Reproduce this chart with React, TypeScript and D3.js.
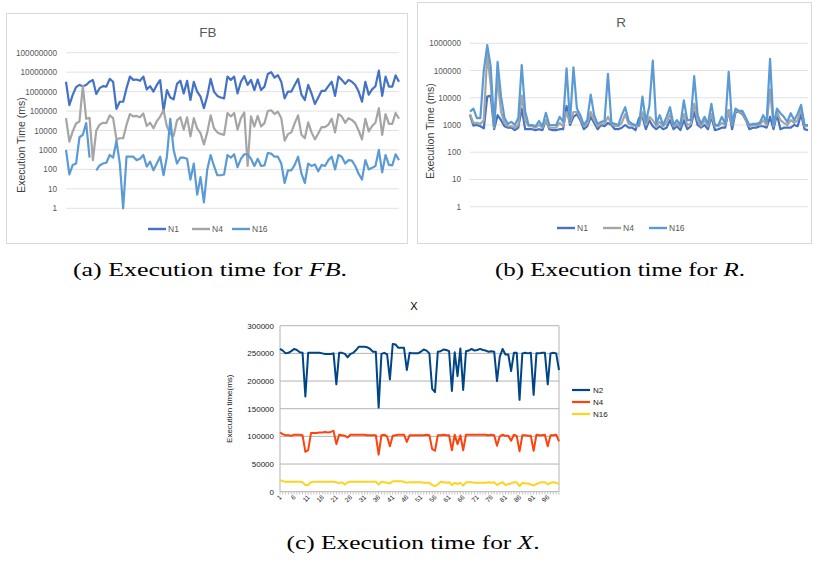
import React from "react";
import * as d3 from "d3";

// FB panel (log scale)
const FB_N1 = [
  3200000, 200000, 680000, 1700000, 2200000, 1900000, 2200000, 3200000, 3900000, 750000,
  1500000, 1900000, 1800000, 4500000, 3200000, 130000, 300000, 300000, 1500000, 5900000,
  4000000, 4200000, 3600000, 5900000, 1300000, 1900000, 1000000, 2200000, 3900000, 100000,
  1200000, 500000, 400000, 2500000, 3600000, 800000, 3600000, 370000, 3200000, 1000000,
  550000, 140000, 600000, 4500000, 1000000, 600000, 500000, 450000, 5900000, 4000000,
  5900000, 800000, 3200000, 6300000, 2200000, 4000000, 1200000, 4200000, 1200000, 1800000,
  8000000, 10000000, 5200000, 7000000, 3200000, 450000, 1000000, 1000000, 2200000, 4500000,
  700000, 370000, 2200000, 800000, 230000, 500000, 1100000, 1100000, 1900000, 3200000,
  600000, 5900000, 4000000, 2500000, 4000000, 3200000, 2200000, 1000000, 300000, 3200000,
  700000, 1300000, 1900000, 12000000, 600000, 5900000, 1800000, 1800000, 6800000, 3200000,
];
const FB_N4 = [
  43000, 2700, 9000, 23000, 29000, 2000000, 40000, 45000, 300, 10000,
  20000, 25000, 24000, 60000, 43000, 3500, 4000, 4000, 20000, 70000,
  53000, 56000, 48000, 75000, 17000, 25000, 13000, 30000, 52000, 110000,
  16000, 6700, 5300, 33000, 48000, 11000, 48000, 5000, 43000, 13000,
  7300, 1900, 8000, 60000, 13000, 8000, 6700, 6000, 79000, 53000,
  79000, 11000, 43000, 84000, 150, 53000, 16000, 56000, 16000, 24000,
  100000, 110000, 70000, 93000, 43000, 3000, 6500, 8000, 24000, 60000,
  6000, 4000, 26000, 8000, 3500, 7000, 15000, 15000, 20000, 40000,
  8000, 70000, 53000, 25000, 43000, 35000, 24000, 10000, 3500, 40000,
  9000, 17000, 25000, 140000, 6000, 70000, 22000, 22000, 80000, 40000,
];
const FB_N16 = [
  1000, 55, 170, 200, 4500, 6000, 24000, 400, null, 90,
  160, 200, 220, 550, 400, 3000, 200, 1, 450, 450,
  450, 300, 350, 550, 140, 250, 90, 200, 450, 50,
  450, 40000, 1000, 200, 400, 400, 350, 30, 200, 5,
  40, 2, 100, 550, 150, 50, 50, 55, 550, 400,
  600, 130, 350, 600, 600, 350, 150, 350, 150, 160,
  700, 650, 450, 450, 200, 20, 90, 90, 170, 450,
  60, 20, 200, 150, 180, 80, 170, 150, 300, 450,
  100, 550, 450, 200, 300, 280, 150, 60, 30, 300,
  100, 120, 150, 1000, 70, 550, 170, 160, 600, 300,
];

// R panel (log scale)
const R_N1 = [
  2300, 950, 1000, 900, 750, 11000, 12000, 700, 2300, 1500,
  900, 800, 800, 650, 800, 4000, 700, 700, 700, 650,
  700, 650, 1500, 700, 650, 650, 700, 700, 5000, 1000,
  2000, 2500, 1500, 700, 900, 2000, 1200, 700, 1000, 900,
  1200, 1000, 700, 700, 800, 1000, 800, 800, 650, 1800,
  2000, 700, 1500, 900, 700, 900, 700, 800, 1500, 700,
  900, 650, 1500, 700, 900, 3000, 1000, 800, 1000, 700,
  2000, 650, 700, 800, 800, 3500, 700, 3000, 3000, 2500,
  1500, 700, 800, 800, 900, 900, 800, 2000, 700, 2500,
  700, 800, 800, 800, 1000, 900, 2500, 700, 650,
];
const R_N4 = [
  2500, 1200, 1200, 1100, 1500, 400000, 30000, 800, 50000, 3000,
  1200, 900, 900, 800, 1000, 12000, 1500, 900, 900, 800,
  1000, 800, 1500, 800, 800, 800, 1200, 900, 3000, 1200,
  3000, 3000, 1800, 900, 1100, 3000, 1500, 900, 1100, 1100,
  2000, 1100, 900, 900, 1200, 2500, 1100, 1000, 900, 900,
  3000, 1000, 2000, 1500, 900, 1300, 900, 1200, 2500, 900,
  1100, 900, 2500, 1000, 1100, 6000, 1500, 900, 1500, 900,
  2500, 900, 900, 1200, 1000, 3500, 1000, 3500, 3000, 2800,
  1500, 900, 1000, 1000, 1000, 1500, 1000, 20000, 900, 3000,
  1500, 1200, 1000, 1500, 1200, 1500, 4000, 900, 900,
];
const R_N16 = [
  3100, 4000, 1800, 1800, 100000, 860000, 140000, 900, 210000, 11000,
  1800, 1100, 1300, 1000, 1800, 160000, 3100, 1000, 1000, 900,
  1400, 900, 2800, 1000, 1000, 1000, 2000, 1300, 120000, 1300,
  130000, 4000, 2300, 1000, 1500, 13000, 2300, 1100, 1300, 1400,
  75000, 1200, 1100, 1000, 2300, 4500, 1400, 1100, 1000, 1000,
  11000, 1300, 5000, 230000, 1100, 2300, 1000, 2000, 4500, 1000,
  1500, 1000, 8000, 1500, 1500, 63000, 2300, 1100, 2000, 1100,
  6000, 1000, 1000, 2000, 1100, 90000, 1100, 4000, 3300, 3300,
  1800, 1000, 1100, 1100, 1200, 2300, 1300, 270000, 1000, 4000,
  2700, 2000, 1300, 2700, 1500, 2600, 5500, 1000, 1000,
];

// X panel (linear scale), runs 1..100
const X_N2 = [
  258000, 255000, 250000, 251000, 254000, 258000, 256000, 252000, 251000, 172000,
  251000, 251000, 251000, 251000, 251000, 250000, 249000, 249000, 249000, 250000,
  194000, 251000, 251000, 249000, 243000, 249000, 251000, 256000, 262000, 262000,
  262000, 261000, 258000, 253000, 253000, 152000, 249000, 251000, 248000, 203000,
  267000, 266000, 260000, 260000, 260000, 220000, 251000, 250000, 250000, 250000,
  253000, 257000, 255000, 250000, 186000, 180000, 253000, 254000, 257000, 256000,
  254000, 182000, 252000, 209000, 259000, 184000, 254000, 255000, 258000, 255000,
  256000, 258000, 256000, 255000, 253000, 254000, 253000, 200000, 244000, 258000,
  248000, 248000, 218000, 251000, 251000, 166000, 250000, 251000, 250000, 251000,
  175000, 250000, 250000, 251000, 251000, 194000, 250000, 251000, 250000, 220000,
];
const X_N4 = [
  107000, 104000, 102000, 102000, 101000, 103000, 103000, 103000, 102000, 72000,
  75000, 106000, 106000, 106000, 107000, 107000, 108000, 107000, 108000, 110000,
  86000, 103000, 102000, 101000, 98000, 103000, 103000, 103000, 103000, 103000,
  103000, 102000, 102000, 102000, 102000, 67000, 102000, 103000, 100000, 82000,
  101000, 102000, 103000, 103000, 103000, 90000, 102000, 102000, 102000, 102000,
  102000, 102000, 103000, 102000, 77000, 74000, 102000, 102000, 103000, 102000,
  102000, 75000, 103000, 86000, 102000, 75000, 103000, 103000, 103000, 103000,
  103000, 103000, 103000, 103000, 102000, 103000, 102000, 83000, 100000, 103000,
  101000, 101000, 92000, 103000, 101000, 73000, 102000, 102000, 101000, 101000,
  74000, 103000, 102000, 102000, 103000, 82000, 102000, 102000, 103000, 91000,
];
const X_N16 = [
  21000, 19000, 18000, 18000, 18000, 18000, 18000, 18000, 17000, 12000,
  12000, 17000, 18000, 18000, 18000, 18000, 18000, 18000, 18000, 18000,
  17000, 15000, 17000, 13000, 17000, 18000, 18000, 18000, 18000, 18000,
  18000, 18000, 18000, 18000, 18000, 13000, 18000, 17000, 16000, 15000,
  19000, 19000, 19000, 19000, 18000, 16000, 17000, 17000, 17000, 17000,
  17000, 16000, 16000, 16000, 12000, 10000, 13000, 18000, 17000, 16000,
  17000, 12000, 16000, 14000, 16000, 11000, 17000, 17000, 17000, 16000,
  16000, 16000, 16000, 16000, 17000, 16000, 17000, 12000, 15000, 17000,
  12000, 14000, 15000, 17000, 17000, 10000, 16000, 15000, 15000, 13000,
  11000, 14000, 16000, 17000, 17000, 13000, 16000, 17000, 16000, 14000,
];

const FB_TICKS = [1, 10, 100, 1000, 10000, 100000, 1000000, 10000000, 100000000];
const R_TICKS = [1, 10, 100, 1000, 10000, 100000, 1000000];
const X_TICKS = [0, 50000, 100000, 150000, 200000, 250000, 300000];
const X_LABELS = d3.range(1, 101, 5);

const SANS = "'Liberation Sans', Arial, sans-serif";
const SERIF = "'Liberation Serif', serif";

type Series = { name: string; color: string; values: (number | null)[] };

function LogPanel(props: {
  box: [number, number, number, number];
  plot: [number, number, number, number];
  title: string;
  titleXY: [number, number];
  ticks: number[];
  series: Series[];
  legend: { swatch: number; y: number }[];
  axisTitleX: number;
  axisTitleY: number;
}) {
  const { box, plot, title, titleXY, ticks, series, legend } = props;
  const [x0, y0, x1, y1] = plot;
  const n = d3.max(series, (s) => s.values.length) as number;
  const x = d3.scaleLinear().domain([0, n - 1]).range([x0, x1]);
  const y = d3.scaleLog().domain([ticks[0], ticks[ticks.length - 1]]).range([y1, y0]);
  const line = d3
    .line<number | null>()
    .defined((d) => d != null)
    .x((_, i) => x(i))
    .y((d) => y(d as number));

  return (
    <g>
      <rect x={box[0]} y={box[1]} width={box[2]} height={box[3]} fill="#fff" stroke="#d9d9d9" />
      <text x={titleXY[0]} y={titleXY[1]} textAnchor="middle" fontSize={13.5} fill="#595959" fontFamily={SANS}>
        {title}
      </text>
      {ticks.map((t) => (
        <g key={t}>
          <line x1={x0} x2={x1} y1={y(t)} y2={y(t)} stroke="#d9d9d9" strokeWidth={0.8} />
          <text x={x0 - 9} y={y(t) + 3} textAnchor="end" fontSize={8.2} fill="#595959" fontFamily={SANS}>
            {String(t)}
          </text>
        </g>
      ))}
      <text
        transform={`translate(${props.axisTitleX},${props.axisTitleY}) rotate(-90)`}
        textAnchor="middle"
        fontSize={10.5}
        fill="#404040"
        fontFamily={SANS}
      >
        Execution Time (ms)
      </text>
      {series.map((s) => (
        <path key={s.name} d={line(s.values) as string} fill="none" stroke={s.color} strokeWidth={2.2} strokeLinejoin="round" />
      ))}
      {series.map((s, i) => (
        <g key={s.name}>
          <line x1={legend[i].swatch} x2={legend[i].swatch + 18} y1={legend[i].y} y2={legend[i].y} stroke={s.color} strokeWidth={2.4} />
          <text x={legend[i].swatch + 20} y={legend[i].y + 3} fontSize={8.5} fill="#595959" fontFamily={SANS}>
            {s.name}
          </text>
        </g>
      ))}
    </g>
  );
}

function XPanel() {
  const [x0, y0, x1, y1] = [280, 325.7, 559, 491.7];
  const x = d3.scaleLinear().domain([1, 100]).range([x0, x1]);
  const y = d3.scaleLinear().domain([0, 300000]).range([y1, y0]);
  const line = d3
    .line<number>()
    .x((_, i) => x(i + 1))
    .y((d) => y(d));
  const series = [
    { name: "N2", color: "#004586", values: X_N2 },
    { name: "N4", color: "#ff420e", values: X_N4 },
    { name: "N16", color: "#ffd320", values: X_N16 },
  ];
  return (
    <g>
      <text x={414} y={310} textAnchor="middle" fontSize={11} fill="#000" fontFamily={SANS}>
        X
      </text>
      {X_TICKS.map((t) => (
        <g key={t}>
          <line x1={x0} x2={x1} y1={y(t)} y2={y(t)} stroke="#b3b3b3" strokeWidth={1} />
          <text x={x0 - 6} y={y(t) + 3} textAnchor="end" fontSize={8} fill="#222" fontFamily={SANS}>
            {t}
          </text>
        </g>
      ))}
      <line x1={x0} x2={x0} y1={y0} y2={y1} stroke="#b3b3b3" />
      <line x1={x1} x2={x1} y1={y0} y2={y1} stroke="#b3b3b3" />
      {d3.range(1, 101).map((i) => (
        <line key={i} x1={x(i)} x2={x(i)} y1={y1} y2={y1 + 3} stroke="#b3b3b3" strokeWidth={0.7} />
      ))}
      {X_LABELS.map((i) => (
        <text
          key={i}
          transform={`translate(${x(i) + 2},${y1 + 6}) rotate(-45)`}
          textAnchor="end"
          fontSize={6.5}
          fill="#222"
          fontFamily={SANS}
        >
          {i}
        </text>
      ))}
      <text
        transform={`translate(232,${(y0 + y1) / 2}) rotate(-90)`}
        textAnchor="middle"
        fontSize={8}
        fill="#222"
        fontFamily={SANS}
      >
        Execution time(ms)
      </text>
      {series.map((s) => (
        <path key={s.name} d={line(s.values) as string} fill="none" stroke={s.color} strokeWidth={2} strokeLinejoin="round" />
      ))}
      {series.map((s, i) => (
        <g key={s.name}>
          <line x1={572} x2={590} y1={390 + i * 12} y2={390 + i * 12} stroke={s.color} strokeWidth={2.2} />
          <text x={593} y={393 + i * 12} fontSize={8} fill="#222" fontFamily={SANS}>
            {s.name}
          </text>
        </g>
      ))}
    </g>
  );
}

function Caption(props: { x: number; y: number; width: number; label: string; name: string }) {
  return (
    <text
      x={props.x - props.width / 2}
      y={props.y}
      fontSize={19.5}
      fontFamily={SERIF}
      fill="#000"
      textLength={props.width}
      lengthAdjust="spacingAndGlyphs"
    >
      {props.label} Execution time for <tspan fontStyle="italic">{props.name}</tspan>.
    </text>
  );
}

export default function App() {
  const fbSeries: Series[] = [
    { name: "N1", color: "#4472c4", values: FB_N1 },
    { name: "N4", color: "#a5a5a5", values: FB_N4 },
    { name: "N16", color: "#5b9bd5", values: FB_N16 },
  ];
  const rSeries: Series[] = [
    { name: "N1", color: "#4472c4", values: R_N1 },
    { name: "N4", color: "#a5a5a5", values: R_N4 },
    { name: "N16", color: "#5b9bd5", values: R_N16 },
  ];
  return (
    <div style={{ position: "absolute", left: 0, top: 0 }}>
      <svg width={813} height={561} style={{ display: "block", background: "#fff" }}>
        <LogPanel
          box={[6.5, 13.5, 401, 230]}
          plot={[66, 52.7, 399, 208.3]}
          title="FB"
          titleXY={[208, 37]}
          ticks={FB_TICKS}
          series={fbSeries}
          legend={[
            { swatch: 148, y: 229 },
            { swatch: 192, y: 229 },
            { swatch: 232, y: 229 },
          ]}
          axisTitleX={25}
          axisTitleY={145}
        />
        <LogPanel
          box={[417.5, 2.5, 394, 241]}
          plot={[470, 43.3, 808, 206.7]}
          title="R"
          titleXY={[621, 27]}
          ticks={R_TICKS}
          series={rSeries}
          legend={[
            { swatch: 557, y: 228 },
            { swatch: 603, y: 228 },
            { swatch: 649, y: 228 },
          ]}
          axisTitleX={434}
          axisTitleY={131}
        />
        <XPanel />
        <Caption x={210} y={276} width={274} label="(a)" name="FB" />
        <Caption x={620} y={276} width={250} label="(b)" name="R" />
        <Caption x={413} y={549} width={253} label="(c)" name="X" />
      </svg>
    </div>
  );
}
